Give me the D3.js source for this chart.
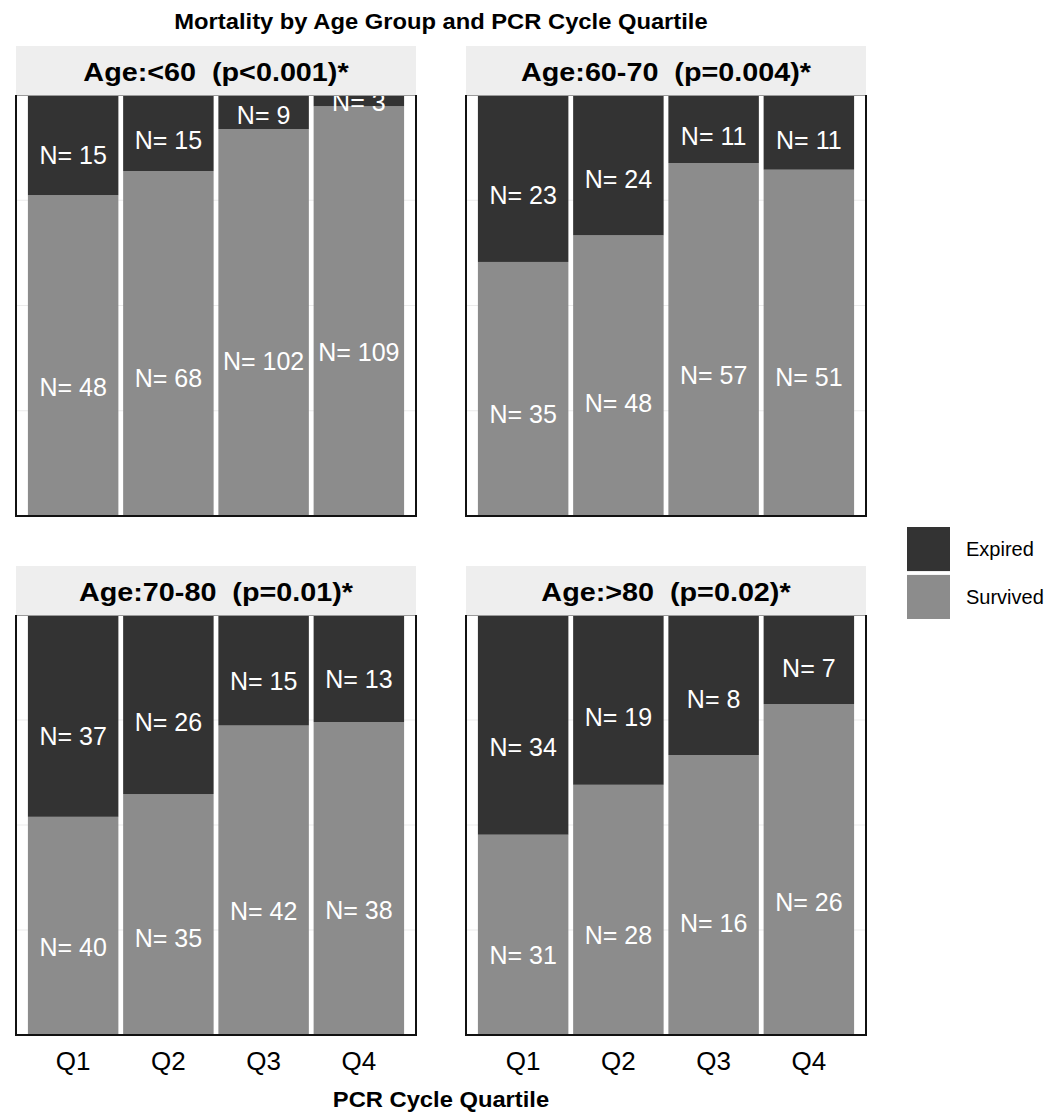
<!DOCTYPE html>
<html>
<head>
<meta charset="utf-8">
<script src="https://cdn.jsdelivr.net/npm/d3@7"></script>
<style>
  html, body { margin: 0; padding: 0; background: #ffffff; }
  svg { display: block; font-family: "Liberation Sans", Arial, Helvetica, sans-serif; }
  .pre { white-space: pre; }
</style>
</head>
<body>
<svg id="chart" width="1059" height="1112"></svg>
<script>
// ---------------- data ----------------
const quartiles = ["Q1", "Q2", "Q3", "Q4"];
const ageGroups = ["Age:<60", "Age:60-70", "Age:70-80", "Age:>80"];
const pLabels = ["(p<0.001)*", "(p=0.004)*", "(p=0.01)*", "(p=0.02)*"];
const outcomes = ["Expired", "Survived"];
const expiredCounts = [
  [15, 15, 9, 3],
  [23, 24, 11, 11],
  [37, 26, 15, 13],
  [34, 19, 8, 7]
];
const survivedCounts = [
  [48, 68, 102, 109],
  [35, 48, 57, 51],
  [40, 35, 42, 38],
  [31, 28, 16, 26]
];
const yTicks = [0.25, 0.5, 0.75];
const chartTitle = "Mortality by Age Group and PCR Cycle Quartile";
const xTitle = "PCR Cycle Quartile";

// ---------------- layout ----------------
const colors = { Expired: "#333333", Survived: "#8c8c8c" };
const panelW = 400;
const colX = [16, 466];
const rowStripY = [46, 566];
const stripH = 49;
const plotH = 421;
const labelFrac = 0.4;

const svg = d3.select("#chart");
const defs = svg.append("defs");

svg.append("text")
  .attr("x", 441).attr("y", 29)
  .attr("text-anchor", "middle")
  .attr("font-size", 22).attr("font-weight", "bold")
  .attr("transform", "translate(441,0) scale(1.08,1) translate(-441,0)")
  .text(chartTitle);

ageGroups.forEach((g, i) => {
  const col = i % 2, row = Math.floor(i / 2);
  const x0 = colX[col];
  const stripTop = rowStripY[row];
  const plotTop = stripTop + stripH;
  const plotBottom = plotTop + plotH - (row === 1 ? 1 : 0);

  const x = d3.scaleBand().domain(quartiles)
    .range([x0, x0 + panelW]).paddingInner(0.05).paddingOuter(0.125);
  const y = d3.scaleLinear().domain([0, 1]).range([plotBottom, plotTop]);

  const rows = quartiles.map((q, k) => ({ q, Expired: expiredCounts[i][k], Survived: survivedCounts[i][k] }));
  const stack = d3.stack().keys(["Survived", "Expired"]).offset(d3.stackOffsetExpand);
  const series = stack(rows);

  // strip
  svg.append("rect").attr("x", x0).attr("y", stripTop)
    .attr("width", panelW).attr("height", stripH).attr("fill", "#eeeeee");
  const cx = x0 + panelW / 2;
  svg.append("text")
    .attr("class", "pre")
    .attr("xml:space", "preserve")
    .attr("x", cx).attr("y", stripTop + 35)
    .attr("text-anchor", "middle")
    .attr("font-size", 25).attr("font-weight", "bold")
    .attr("transform", `translate(${cx},0) scale(1.15,1) translate(${-cx},0)`)
    .text(g + "  " + pLabels[i]);

  const clipId = "clip" + i;
  defs.append("clipPath").attr("id", clipId).append("rect")
    .attr("x", x0).attr("y", plotTop).attr("width", panelW).attr("height", plotBottom - plotTop);

  const pg = svg.append("g").attr("clip-path", `url(#${clipId})`);
  pg.append("rect").attr("x", x0).attr("y", plotTop)
    .attr("width", panelW).attr("height", plotBottom - plotTop).attr("fill", "#ffffff");
  pg.selectAll("line.grid").data(yTicks).join("line")
    .attr("class", "grid")
    .attr("x1", x0).attr("x2", x0 + panelW)
    .attr("y1", d => y(d)).attr("y2", d => y(d))
    .attr("stroke", "#ebebeb").attr("stroke-width", 1);

  series.forEach(s => {
    pg.selectAll(null).data(s).join("rect")
      .attr("x", d => x(d.data.q))
      .attr("width", x.bandwidth())
      .attr("y", d => y(d[1]))
      .attr("height", d => y(d[0]) - y(d[1]))
      .attr("fill", colors[s.key]);
  });
  series.forEach(s => {
    pg.selectAll(null).data(s).join("text")
      .attr("x", d => x(d.data.q) + x.bandwidth() / 2)
      .attr("y", d => y(d[0] + (d[1] - d[0]) * labelFrac))
      .attr("dy", "0.35em")
      .attr("text-anchor", "middle")
      .attr("font-size", 25)
      .attr("fill", "#ffffff")
      .text(d => "N= " + d.data[s.key]);
  });

  // borders
  svg.append("line").attr("x1", x0).attr("x2", x0 + panelW)
    .attr("y1", plotTop + 0.5).attr("y2", plotTop + 0.5)
    .attr("stroke", "#9a9a9a").attr("stroke-width", 1);
  svg.append("path")
    .attr("d", `M${x0},${plotTop}V${plotBottom}H${x0 + panelW}V${plotTop}`)
    .attr("fill", "none").attr("stroke", "#111111").attr("stroke-width", 2);

  if (row === 1) {
    const axis = d3.axisBottom(x).tickSize(0).tickPadding(0);
    const ag = svg.append("g").attr("transform", `translate(0,${plotBottom})`).call(axis);
    ag.select(".domain").remove();
    ag.selectAll("text")
      .attr("y", 35).attr("dy", null)
      .attr("font-size", 26).attr("fill", "#000000")
      .attr("font-family", "'Liberation Sans', Arial, sans-serif");
  }
});

svg.append("text")
  .attr("x", 441).attr("y", 1107)
  .attr("text-anchor", "middle")
  .attr("font-size", 22).attr("font-weight", "bold")
  .attr("transform", "translate(441,0) scale(1.08,1) translate(-441,0)")
  .text(xTitle);

// legend
const legend = svg.append("g");
const keyY = d3.scaleBand().domain(outcomes).range([527, 619]).paddingInner(0.08).paddingOuter(0);
outcomes.forEach(o => {
  legend.append("rect").attr("x", 907).attr("y", keyY(o))
    .attr("width", 43).attr("height", keyY.bandwidth()).attr("fill", colors[o]);
  legend.append("text").attr("x", 966).attr("y", keyY(o) + keyY.bandwidth() / 2)
    .attr("dy", "0.35em").attr("font-size", 20).attr("fill", "#000000").text(o);
});
</script>
</body>
</html>
